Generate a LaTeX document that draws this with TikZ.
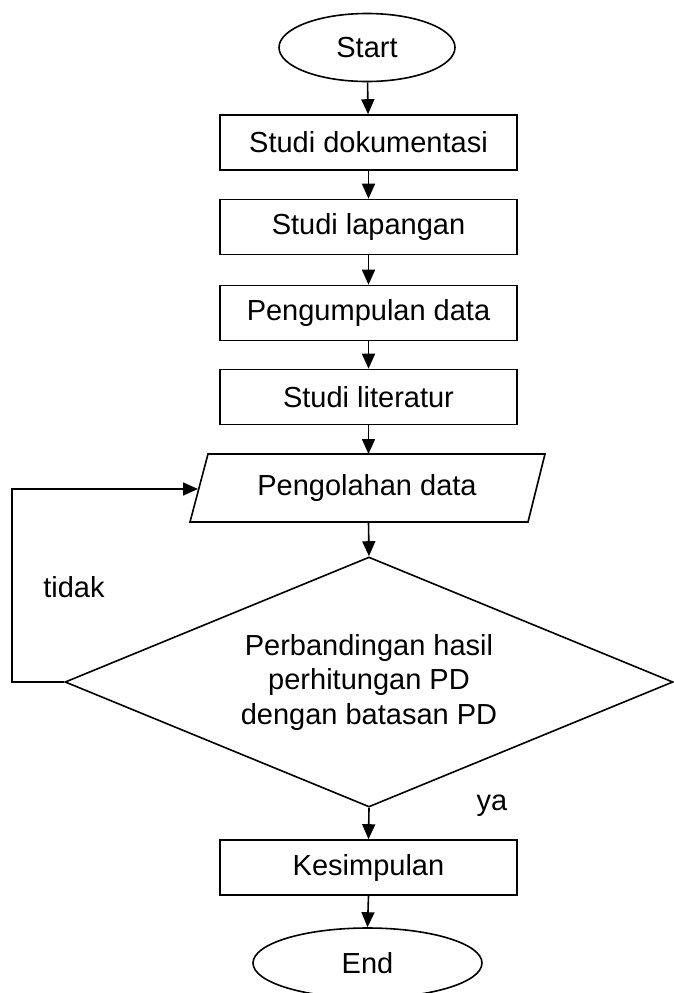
\documentclass[tikz,border=0pt]{standalone}
\usepackage{fontspec}
\setmainfont{Liberation Sans}
\usetikzlibrary{shapes.geometric,arrows.meta}
\begin{document}
\begin{tikzpicture}[x=1pt,y=-1pt,
  every node/.style={font=\fontsize{29}{34.5}\selectfont, inner sep=0pt},
  line/.style={draw=black, line width=1.6pt},
  arr/.style={line, -{Triangle[width=13pt,length=15pt]}},
  stepbox/.style={line, rectangle, minimum width=297pt, minimum height=55pt},
  term/.style={line, ellipse},
  decide/.style={line, diamond, aspect=2.432, minimum width=608pt, minimum height=250pt, align=center},
  lbl/.style={font=\fontsize{29}{34.5}\selectfont}]
\useasboundingbox (0,0) rectangle (673,993);

\node[term, minimum width=176pt, minimum height=68pt] (start) at (367,47.5) {Start};
\node[stepbox] (b1) at (368.5,142.5) {Studi dokumentasi};
\node[stepbox] (b2) at (368.5,227) {Studi lapangan};
\node[stepbox] (b3) at (368.5,313) {Pengumpulan data};
\node[stepbox] (b4) at (368.5,397) {Studi literatur};

% parallelogram
\draw[line] (190,522) -- (208,454) -- (545,454) -- (528,522) -- cycle;
\coordinate (pgN) at (368.5,454);
\coordinate (pgS) at (368.5,522);
\coordinate (pgW) at (198,489);
\node (pg) at (367,488) {Pengolahan data};

\node[decide] (dia) at (369,682) {Perbandingan hasil\\perhitungan PD\\dengan batasan PD};

\node[stepbox] (b5) at (368.5,867.5) {Kesimpulan};
\node[term, minimum width=229pt, minimum height=70pt] (end) at (367.5,963) {End};

\coordinate (lp) at (12,682);

\draw[arr] (start) -- (b1);
\draw[arr] (b1) -- (b2);
\draw[arr] (b2) -- (b3);
\draw[arr] (b3) -- (b4);
\draw[arr] (b4.south) -- (pgN);
\draw[arr] (pgS) -- (dia.north);
\draw[arr] (dia.south) -- (b5.north);
\draw[arr] (b5.south) -- (end.north);
\draw[arr] (dia.west) -- (lp) |- (pgW);

\node[lbl] (tidak) at (74,587) {tidak};
\node[lbl] (ya) at (492,806) {ya};
\end{tikzpicture}
\end{document}
